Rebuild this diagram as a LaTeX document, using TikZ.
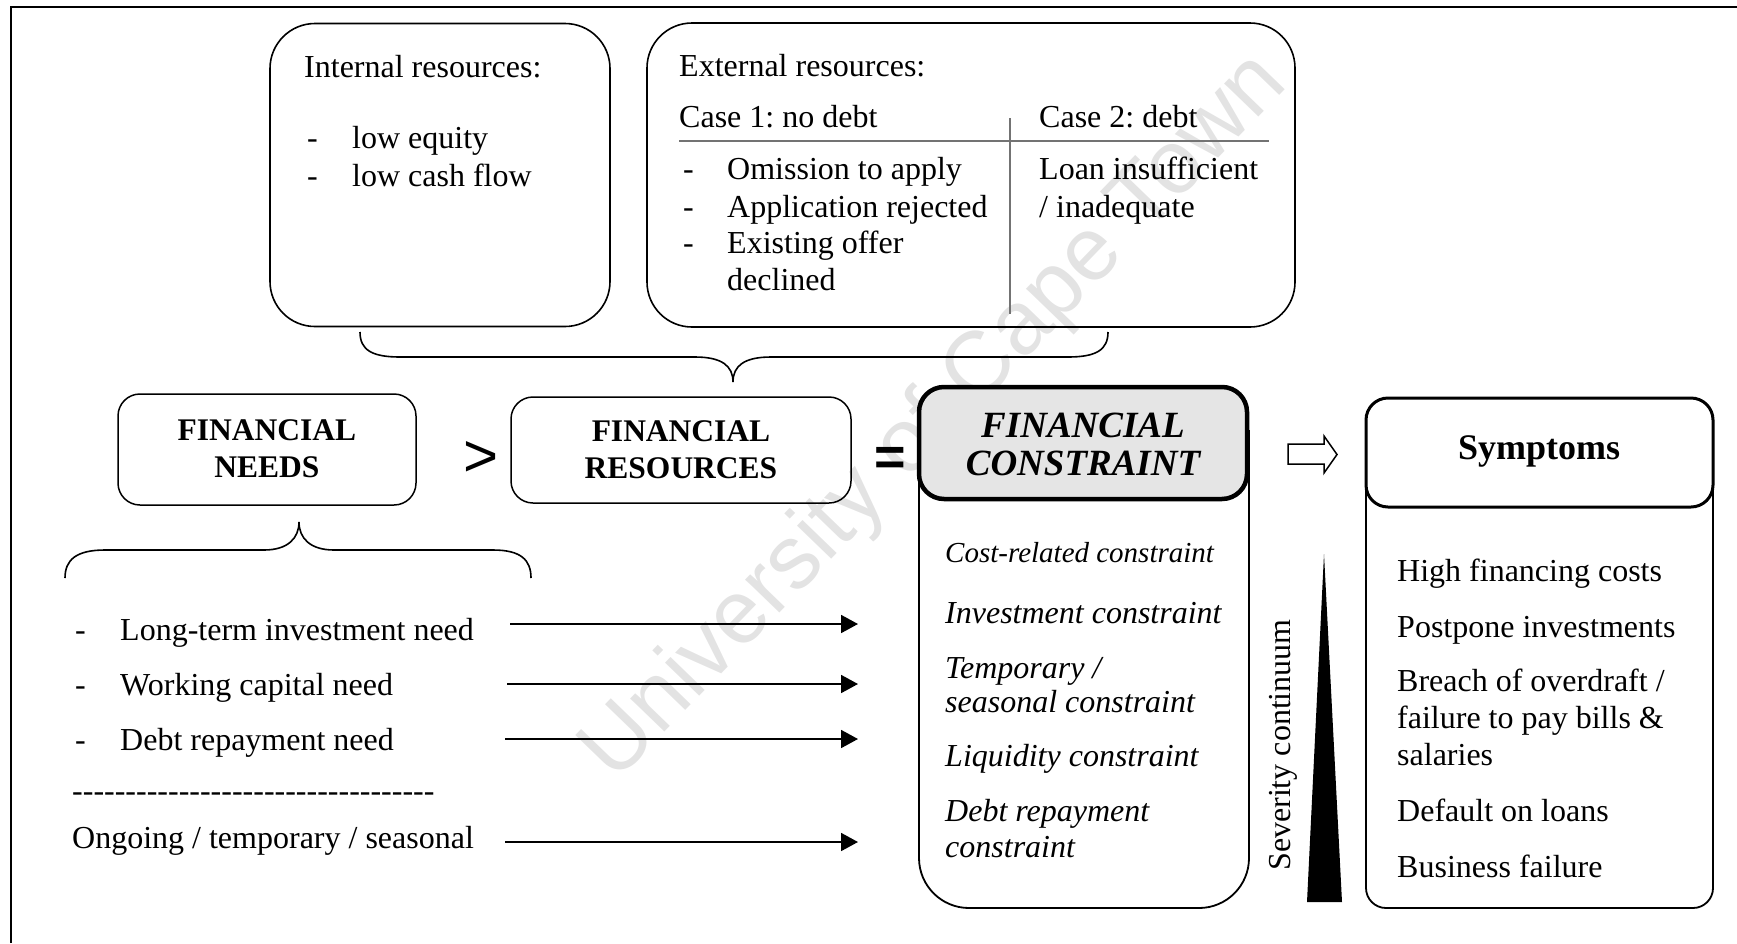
\documentclass[tikz,border=0pt]{standalone}
\usepackage{fontspec}
\setmainfont{Liberation Serif}
\newfontfamily\wmfont{Liberation Sans}
\usetikzlibrary{arrows.meta}
\frenchspacing
\newcommand\fs{\fontsize{32}{37}\selectfont}
\newcommand\fsb{\fontsize{31.5}{37}\selectfont\bfseries}
\newcommand\hy{-\kern0pt}
\newcommand\hyrow{\hy\hy\hy\hy\hy\hy\hy\hy\hy\hy\hy\hy\hy\hy\hy\hy\hy\hy\hy\hy\hy\hy\hy\hy\hy\hy\hy\hy\hy\hy\hy\hy\hy\hy}
\begin{document}
\begin{tikzpicture}[x=1pt,y=-1pt,
  txt/.style={anchor=base west, inner sep=0pt, font=\fs},
  itx/.style={anchor=base west, inner sep=0pt, font=\fs\itshape},
  hd/.style={anchor=base, inner sep=0pt, font=\fsb},
  bigbox/.style={draw, line width=1.6pt, rounded corners=45pt, inner sep=0pt},
  smallbox/.style={draw, line width=1.5pt, rounded corners=22pt, inner sep=0pt},
  arr/.style={line width=1.8pt, -{Triangle[length=17pt,width=18pt]}},
  brace/.style={line width=1.6pt},
]
\useasboundingbox (0,0) rectangle (1737,943);
% watermark
\node[rotate=46, text=black!11, font=\wmfont\fontsize{90}{90}\selectfont, inner sep=0pt] (wm) at (936,418) {University of Cape Town};
% frame
\draw[line width=2pt] (11,943) -- (11,7) -- (1737,7);

% top boxes
\node[bigbox, minimum width=340pt, minimum height=303pt] (intbox) at (440,175) {};
\node[bigbox, minimum width=648pt, minimum height=304pt] (extbox) at (971,175) {};
\node[txt] (intt) at (304,77) {Internal resources:};
\node[txt] (intd1) at (307,148) {-};
\node[txt] (int1) at (352,148) {low equity};
\node[txt] (intd2) at (307,186) {-};
\node[txt] (int2) at (352,186) {low cash flow};

\node[txt] (extt) at (679,76) {External resources:};
\node[txt] (case1) at (679,127) {Case 1: no debt};
\node[txt] (case2) at (1039,127) {Case 2: debt};
\coordinate (hl1) at (679,141); \coordinate (hl2) at (1269,141);
\coordinate (vl1) at (1010,118); \coordinate (vl2) at (1010,314);
\draw[black!55, line width=1.2pt] (hl1) -- (hl2);
\draw[black!55, line width=1.2pt] (vl1) -- (vl2);
\node[txt] (ed1) at (683,179) {-};
\node[txt] (e1) at (727,179) {Omission to apply};
\node[txt] (ed2) at (683,217) {-};
\node[txt] (e2) at (727,217) {Application rejected};
\node[txt] (ed3) at (683,253) {-};
\node[txt] (e3) at (727,253) {Existing offer};
\node[txt] (e4) at (727,290) {declined};
\node[txt] (l1) at (1039,179) {Loan insufficient};
\node[txt] (l2) at (1039,217) {/ inadequate};

% top brace
\draw[brace] (360,332) .. controls (360,350) and (372,357) .. (400,357) -- (695,357)
  .. controls (722,357) and (733,366) .. (733,382)
  .. controls (733,366) and (744,357) .. (771,357) -- (1068,357)
  .. controls (1096,357) and (1108,350) .. (1108,332);

% middle row
\node[smallbox, minimum width=298pt, minimum height=111pt] (needs) at (267,449.5) {};
\node[hd] (n1) at (267,440) {FINANCIAL};
\node[hd] (n2) at (267,477) {NEEDS};
\node[inner sep=0pt, font=\wmfont\fontsize{60}{60}\selectfont] (gt) at (481,459) {>};
\node[smallbox, minimum width=340pt, minimum height=106pt] (res) at (681,450) {};
\node[hd] (r1) at (681,441) {FINANCIAL};
\node[hd] (r2) at (681,478) {RESOURCES};
\node[inner sep=0pt, font=\wmfont\bfseries\fontsize{54}{54}\selectfont] (eq) at (890,461) {=};

% constraint box
\draw[line width=1.8pt, rounded corners=50pt] (919,430) -- (919,908) -- (1249,908) -- (1249,430);
\node[draw, line width=4.5pt, rounded corners=25pt, fill=black!10, minimum width=328pt, minimum height=112pt, inner sep=0pt] (fch) at (1083,443) {};
\node[anchor=base, inner sep=0pt, font=\fontsize{37}{40}\selectfont\bfseries\itshape] (c1) at (1083,437) {FINANCIAL};
\node[anchor=base, inner sep=0pt, font=\fontsize{37}{40}\selectfont\bfseries\itshape] (c2) at (1083,475) {CONSTRAINT};
\node[anchor=base west, inner sep=0pt, font=\fontsize{29}{34}\selectfont\itshape] (k1) at (945,562) {Cost-related constraint};
\node[itx] (k2) at (945,623) {Investment constraint};
\node[itx] (k3) at (945,678) {Temporary /};
\node[itx] (k4) at (945,712) {seasonal constraint};
\node[itx] (k5) at (945,766) {Liquidity constraint};
\node[itx] (k6) at (945,821) {Debt repayment};
\node[itx] (k7) at (945,857) {constraint};

% severity
\node[rotate=90, inner sep=0pt, font=\fs] (sev) at (1283,745) {Severity continuum};
\fill (1324,554) -- (1342,902) -- (1307,902) -- cycle;

% hollow arrow
\draw[line width=1.5pt, fill=white] (1288,444) -- (1324,444) -- (1324,436) -- (1337,454.5) -- (1324,473) -- (1324,464) -- (1288,464) -- cycle;

% symptoms
\draw[line width=1.8pt, rounded corners=20pt] (1366,440) -- (1366,908) -- (1713,908) -- (1713,440);
\node[draw, line width=3pt, rounded corners=22pt, fill=white, minimum width=347pt, minimum height=109pt, inner sep=0pt] (symh) at (1539.5,452.5) {};
\node[anchor=base, inner sep=0pt, font=\fontsize{36}{40}\selectfont\bfseries] (sym) at (1539,459) {Symptoms};
\node[txt] (s1) at (1397,581) {High financing costs};
\node[txt] (s2) at (1397,637) {Postpone investments};
\node[txt] (s3) at (1397,691) {Breach of overdraft /};
\node[txt] (s4) at (1397,728) {failure to pay bills \&};
\node[txt] (s5) at (1397,765) {salaries};
\node[txt] (s6) at (1397,821) {Default on loans};
\node[txt] (s7) at (1397,877) {Business failure};

% bottom brace
\draw[brace] (65,578) .. controls (65,560) and (76,550) .. (105,550) -- (264,550)
  .. controls (288,550) and (299,538) .. (299,522)
  .. controls (299,538) and (310,550) .. (334,550) -- (493,550)
  .. controls (521,550) and (531,560) .. (531,578);

% needs list
\node[txt] (d1) at (75,640) {-};
\node[txt] (m1) at (120,640) {Long-term investment need};
\node[txt] (d2) at (75,695) {-};
\node[txt] (m2) at (120,695) {Working capital need};
\node[txt] (d3) at (75,750) {-};
\node[txt] (m3) at (120,750) {Debt repayment need};
\node[txt] (dl) at (72,801) {\hyrow};
\node[txt] (m4) at (72,848) {Ongoing / temporary / seasonal};

\coordinate (a1s) at (510,624); \coordinate (a1e) at (858,624);
\coordinate (a2s) at (507,684); \coordinate (a2e) at (858,684);
\coordinate (a3s) at (505,739); \coordinate (a3e) at (858,739);
\coordinate (a4s) at (505,842); \coordinate (a4e) at (858,842);
\draw[arr] (a1s) -- (a1e);
\draw[arr] (a2s) -- (a2e);
\draw[arr] (a3s) -- (a3e);
\draw[arr] (a4s) -- (a4e);
\end{tikzpicture}
\end{document}
